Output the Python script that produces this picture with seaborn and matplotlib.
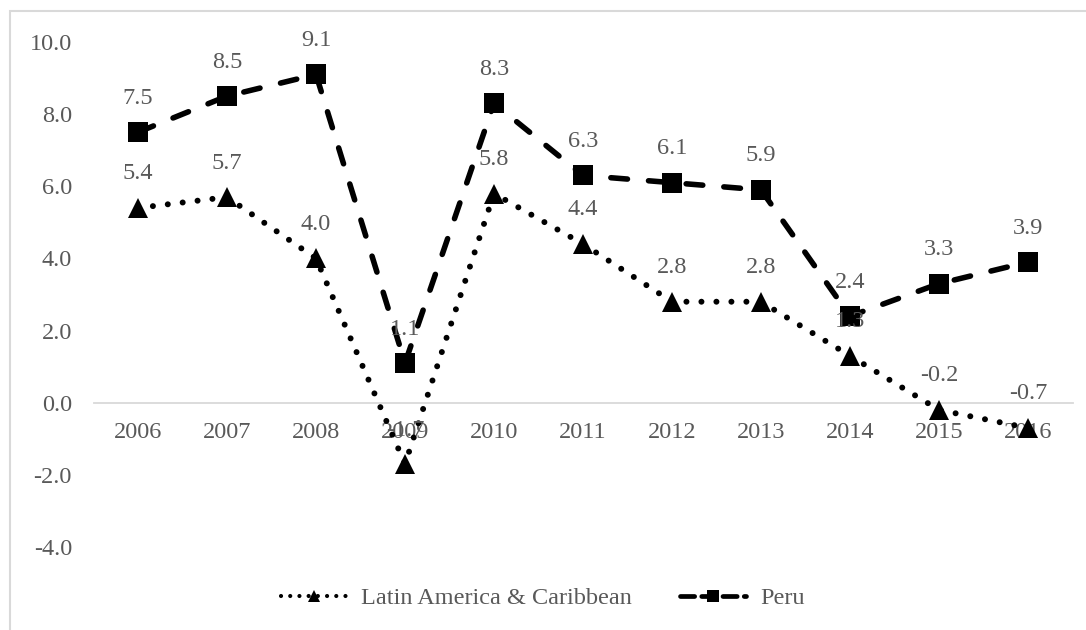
import matplotlib
matplotlib.use("Agg")
import matplotlib.pyplot as plt
import seaborn as sns
import pandas as pd
from matplotlib.lines import Line2D
from matplotlib.patches import Rectangle

years = [2006, 2007, 2008, 2009, 2010, 2011, 2012, 2013, 2014, 2015, 2016]
lac = [5.4, 5.7, 4.0, -1.7, 5.8, 4.4, 2.8, 2.8, 1.3, -0.2, -0.7]
peru = [7.5, 8.5, 9.1, 1.1, 8.3, 6.3, 6.1, 5.9, 2.4, 3.3, 3.9]
series_names = ["Latin America & Caribbean", "Peru"]
yticks = [-4, -2, 0, 2, 4, 6, 8, 10]

sns.set_theme(style="white")
plt.rcParams['font.family'] = ['Liberation Serif', 'DejaVu Serif']

TXT = "#595959"
FS = 17.5
fig = plt.figure(figsize=(10.86, 6.30), dpi=100)
ax = fig.add_axes([93.5/1086, 1-547/630, (1072.5-93.5)/1086, (547-42)/630])

df = pd.DataFrame({"year": years, "lac": lac, "peru": peru})

sns.lineplot(data=df, x="year", y="lac", ax=ax, color="black", lw=4.3,
             linestyle=(0, (0.01, 2.5)), marker="^", markersize=15,
             markeredgewidth=0, markerfacecolor="black")
sns.lineplot(data=df, x="year", y="peru", ax=ax, color="black", lw=4.0,
             linestyle=(0, (3.0, 3.8)), marker="s", markersize=14,
             markeredgewidth=0, markerfacecolor="black")
for ln in ax.get_lines():
    ln.set_dash_capstyle("round")
    ln.set_solid_capstyle("round")

for vals in (lac, peru):
    for x, v in zip(years, vals):
        ax.annotate(f"{v:.1f}", xy=(x, v), xytext=(0, 24.5), textcoords="offset points",
                    ha="center", va="center", fontsize=FS, color=TXT)

ax.set_xlim(2005.5, 2016.5)
ax.set_ylim(-4, 10)
ax.set_yticks(yticks)
ax.set_yticklabels([f"{t:.1f}" for t in yticks])
ax.set_xticks(years)
ax.set_xticklabels([str(y) for y in years])
ax.set_xlabel("")
ax.set_ylabel("")
for s in ["top", "right", "left"]:
    ax.spines[s].set_visible(False)
ax.spines["bottom"].set_position(("data", 0))
ax.spines["bottom"].set_color("#D9D9D9")
ax.spines["bottom"].set_linewidth(1.3)
ax.spines["bottom"].set_zorder(0)
ax.tick_params(axis="y", length=0, pad=15.5, labelsize=FS, labelcolor=TXT)
ax.tick_params(axis="x", length=0, pad=14, labelsize=FS, labelcolor=TXT)
ax.grid(False)
ax.patch.set_alpha(0)

handles = [
    Line2D([], [], color="black", lw=3.0, linestyle=(0, (0.01, 2.2)), dash_capstyle="round",
           marker="^", markersize=9, markeredgewidth=0),
    Line2D([], [], color="black", lw=3.4, linestyle=(0, (3.0, 1.5)), dash_capstyle="round",
           marker="s", markersize=9, markeredgewidth=0),
]
leg = fig.legend(handles, series_names, loc="center", bbox_to_anchor=(0.5, 1-598/630),
                 ncol=2, frameon=False, fontsize=FS, handlelength=2.7,
                 columnspacing=2.0, handletextpad=0.6)
for t in leg.get_texts():
    t.set_color(TXT)

fig.patches.append(Rectangle((10/1086, -0.1), 1.2, 1.1 - 11/630, transform=fig.transFigure,
                             fill=False, edgecolor="#D9D9D9", lw=1.5))

fig.savefig("out.png", dpi=100)
